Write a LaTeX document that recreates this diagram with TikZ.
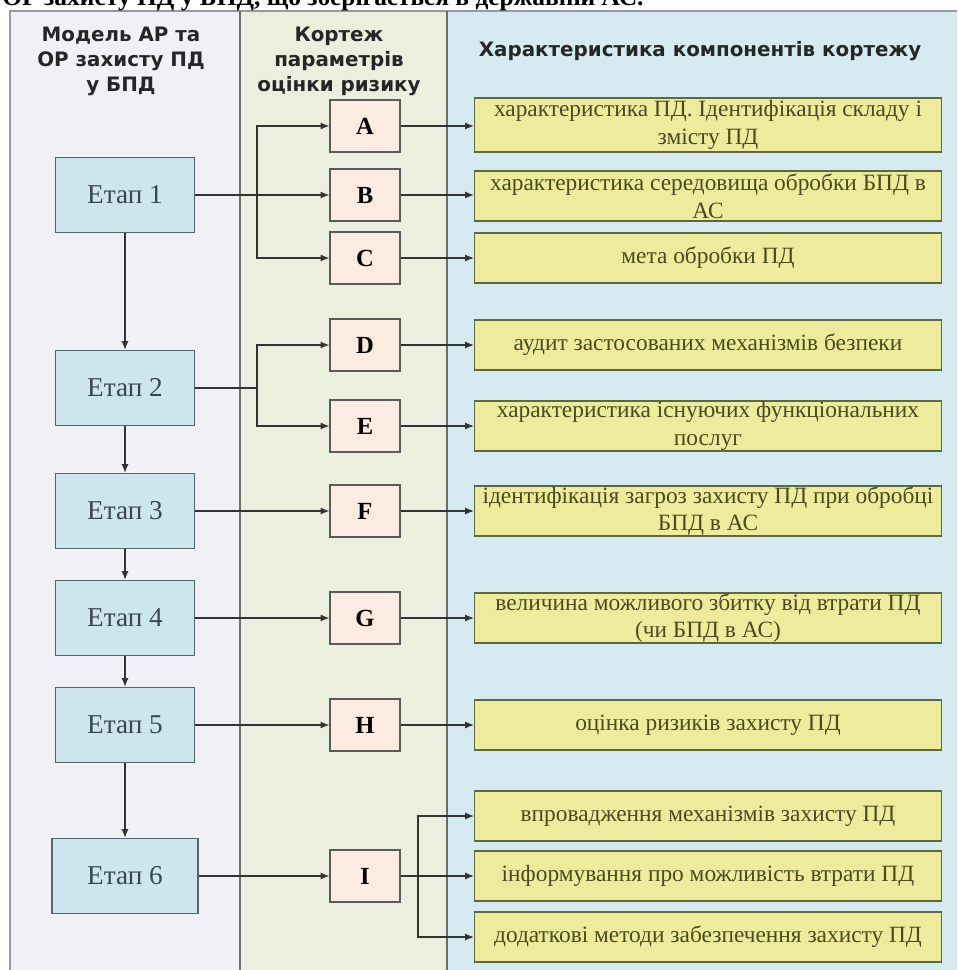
\documentclass[tikz,border=0pt]{standalone}
\usepackage{fontspec}
\setmainfont{Liberation Serif}
\newfontfamily\headfont{DejaVu Sans}
\usetikzlibrary{positioning,arrows.meta}

\definecolor{modelbg}{HTML}{F1F0F7}
\definecolor{kortbg}{HTML}{EAF0DD}
\definecolor{charbg}{HTML}{D6EAF2}
\definecolor{panelline}{HTML}{6E6E6E}
\definecolor{etapfill}{HTML}{CDE6EE}
\definecolor{etapline}{HTML}{56656C}
\definecolor{etaptext}{HTML}{3A4650}
\definecolor{paramfill}{HTML}{FBEBE0}
\definecolor{paramline}{HTML}{5A5A5A}
\definecolor{descrfill}{HTML}{EEEC9C}
\definecolor{descrline}{HTML}{5B6840}
\definecolor{descrtext}{HTML}{4A4A1E}
\definecolor{linecol}{HTML}{333333}

\begin{document}
\begin{tikzpicture}[x=0.02cm,y=-0.02cm,
    semithick,
    etap/.style={rectangle,draw=etapline,fill=etapfill,text=etaptext,line width=0.8pt,
      minimum width=2.78cm,minimum height=1.5cm,font=\fontsize{15.5}{17}\selectfont},
    param/.style={rectangle,draw=paramline,fill=paramfill,line width=0.8pt,
      minimum width=1.4cm,minimum height=1.04cm,font=\bfseries\fontsize{14}{16}\selectfont},
    descr/.style={rectangle,draw=descrline,fill=descrfill,text=descrtext,line width=0.8pt,
      minimum width=9.34cm,minimum height=1cm,inner sep=0pt,align=center,
      font=\fontsize{13.3}{15.8}\selectfont},
    head/.style={align=center,text=black!85,font=\headfont\bfseries\fontsize{11.3}{14.2}\selectfont},
    arr/.style={draw=linecol,-{Latex[length=5pt,width=4pt]}}
    ]

\useasboundingbox (0,0) rectangle (957,970);

% columns
\fill[modelbg] (10,11) rectangle (240,970);
\fill[kortbg] (240,11) rectangle (447,970);
\fill[charbg] (447,11) rectangle (957,970);
\draw[panelline!70,line width=1pt] (10,970) -- (10,11) -- (957,11);
\draw[panelline,line width=1.2pt] (240,11) -- (240,970);
\draw[panelline,line width=1.2pt] (447,11) -- (447,970);

% cut caption line
\begin{scope}
\clip (0,0) rectangle (957,11);
\node[anchor=base west,font=\bfseries\fontsize{14.5}{16}\selectfont] (caption) at (-4,6)
  {ОР захисту ПД у БПД, що зберігається в державній АС.};
\end{scope}

% headers
\node[head] (hmodel) at (121,61) {Модель АР та\\ОР захисту ПД\\у БПД};
\node[head] (hkort) at (339,61) {Кортеж\\параметрів\\оцінки ризику};
\node[head] (hchar) at (700,51) {Характеристика компонентів кортежу};

% stages
\node[etap] (e1) at (125,195) {Етап 1};
\node[etap] (e2) at (125,388) {Етап 2};
\node[etap] (e3) at (125,511) {Етап 3};
\node[etap] (e4) at (125,618) {Етап 4};
\node[etap] (e5) at (125,725) {Етап 5};
\node[etap,minimum width=2.92cm] (e6) at (125,876) {Етап 6};

% tuple
\node[param] (A) at (365,126) {A};
\node[param] (B) at (365,195) {B};
\node[param] (C) at (365,258) {C};
\node[param] (D) at (365,345) {D};
\node[param] (E) at (365,426) {E};
\node[param] (F) at (365,511) {F};
\node[param] (G) at (365,618) {G};
\node[param] (H) at (365,725) {H};
\node[param] (I) at (365,876) {I};

% characteristics
\node[descr,minimum height=1.08cm] (d1) at (708,125) {характеристика ПД. Ідентифікація складу і\\змісту ПД};
\node[descr] (d2) at (708,196) {характеристика середовища обробки БПД в\\АС};
\node[descr] (d3) at (708,258) {мета обробки ПД};
\node[descr] (d4) at (708,345) {аудит застосованих механізмів безпеки};
\node[descr] (d5) at (708,426) {характеристика існуючих функціональних\\послуг};
\node[descr] (d6) at (708,511) {ідентифікація загроз захисту ПД при обробці\\БПД в АС};
\node[descr] (d7) at (708,618) {величина можливого збитку від втрати ПД\\(чи БПД в АС)};
\node[descr] (d8) at (708,725) {оцінка ризиків захисту ПД};
\node[descr] (d9) at (708,816) {впровадження механізмів захисту ПД};
\node[descr] (d10) at (708,876) {інформування про можливість втрати ПД};
\node[descr] (d11) at (708,937) {додаткові методи забезпечення захисту ПД};

\coordinate (j1) at (257,195);
\coordinate (j2) at (257,388);
\coordinate (jI) at (418,876);

% stage chain
\draw[arr] (e1) -- (e2);
\draw[arr] (e2) -- (e3);
\draw[arr] (e3) -- (e4);
\draw[arr] (e4) -- (e5);
\draw[arr] (e5) -- (e6);

% stages to tuple
\draw[arr] (e1) -- (B);
\draw[arr] (j1) |- (A);
\draw[arr] (j1) |- (C);
\draw[linecol] (e2) -- (j2);
\draw[arr] (j2) |- (D);
\draw[arr] (j2) |- (E);
\draw[arr] (e3) -- (F);
\draw[arr] (e4) -- (G);
\draw[arr] (e5) -- (H);
\draw[arr] (e6) -- (I);

% tuple to characteristics
\draw[arr] (A) -- (A -| d1.west);
\draw[arr] (B) -- (B -| d2.west);
\draw[arr] (C) -- (d3);
\draw[arr] (D) -- (d4);
\draw[arr] (E) -- (d5);
\draw[arr] (F) -- (d6);
\draw[arr] (G) -- (d7);
\draw[arr] (H) -- (d8);
\draw[linecol] (I) -- (jI);
\draw[arr] (jI) |- (d9);
\draw[arr] (jI) -- (d10);
\draw[arr] (jI) |- (d11);
\end{tikzpicture}
\end{document}
